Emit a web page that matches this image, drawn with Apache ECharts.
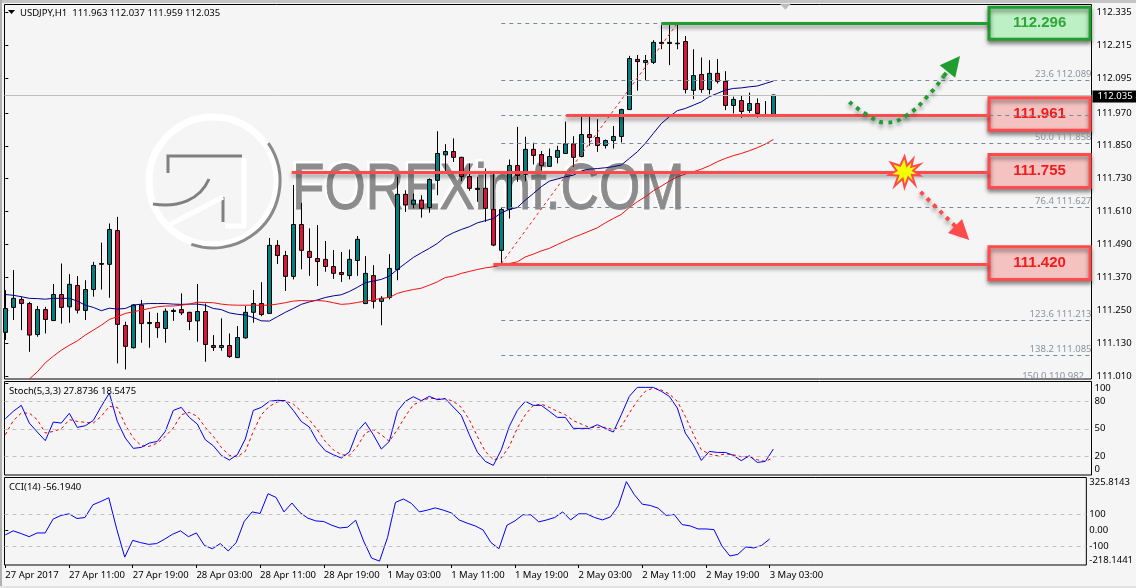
<!DOCTYPE html>
<html><head><meta charset="utf-8">
<style>html,body{margin:0;padding:0;background:#f5f5f5;overflow:hidden}#c{width:1136px;height:588px}</style>
<script src="https://cdn.jsdelivr.net/npm/echarts@6/dist/echarts.min.js"></script>
</head><body><div id="c"></div>
<script>
const timeLabels=['27 Apr 2017','27 Apr 11:00','27 Apr 19:00','28 Apr 03:00','28 Apr 11:00','28 Apr 19:00','1 May 03:00','1 May 11:00','1 May 19:00','2 May 03:00','2 May 11:00','2 May 19:00','3 May 03:00'];
const priceTicks=[111.010,111.130,111.250,111.370,111.490,111.610,111.730,111.850,111.970,112.095,112.215,112.335];
const opens=[111.170,111.261,111.290,111.275,111.162,111.253,111.213,111.308,111.263,111.341,111.250,111.326,111.418,111.418,111.541,111.195,111.114,111.270,111.202,111.206,111.184,111.246,111.253,111.243,111.212,111.246,111.122,111.115,111.122,111.078,111.150,111.243,111.275,111.239,111.487,111.450,111.374,111.563,111.465,111.439,111.436,111.410,111.388,111.377,111.432,111.275,111.377,111.283,111.297,111.399,111.673,111.637,111.652,111.625,111.724,111.817,111.829,111.808,111.738,111.695,111.695,111.618,111.469,111.618,111.778,111.746,111.837,111.818,111.775,111.808,111.822,111.857,111.811,111.891,111.880,111.851,111.869,111.884,111.982,112.165,112.154,112.154,112.227,112.227,112.224,112.230,112.052,112.110,112.055,112.114,112.085,111.997,112.015,111.979,112.004,111.959,111.963];
const closes=[111.257,111.294,111.275,111.160,111.253,111.217,111.308,111.261,111.345,111.251,111.326,111.414,111.421,111.545,111.199,111.119,111.270,111.202,111.206,111.187,111.247,111.250,111.241,111.210,111.246,111.126,111.115,111.122,111.082,111.151,111.243,111.275,111.235,111.487,111.450,111.374,111.563,111.469,111.443,111.428,111.410,111.385,111.381,111.436,111.509,111.385,111.283,111.294,111.403,111.673,111.634,111.652,111.622,111.727,111.822,111.829,111.808,111.738,111.695,111.691,111.622,111.488,111.618,111.778,111.742,111.837,111.815,111.778,111.811,111.833,111.857,111.808,111.891,111.880,111.851,111.869,111.884,111.982,112.168,112.157,112.161,112.227,112.223,112.223,112.222,112.055,112.106,112.055,112.114,112.085,111.997,112.019,111.975,112.004,111.968,111.957,112.035];
const highs=[111.324,111.397,111.300,111.281,111.266,111.263,111.346,111.421,111.382,111.375,111.360,111.427,111.497,111.567,111.591,111.209,111.273,111.288,111.245,111.241,111.257,111.257,111.312,111.245,111.346,111.275,111.160,111.221,111.166,111.193,111.266,111.324,111.353,111.514,111.506,111.467,111.707,111.642,111.549,111.561,111.503,111.470,111.463,111.472,111.521,111.448,111.415,111.302,111.455,111.737,111.688,111.676,111.670,111.731,111.903,111.856,111.877,111.810,111.786,111.737,111.767,111.749,111.625,111.800,111.919,111.883,111.861,111.831,111.840,111.850,111.938,111.885,111.956,111.956,111.947,111.873,111.922,111.985,112.178,112.181,112.181,112.235,112.290,112.290,112.296,112.250,112.202,112.172,112.162,112.166,112.122,112.029,112.032,112.044,112.023,112.013,112.037];
const lows=[111.142,111.215,111.178,111.099,111.154,111.166,111.213,111.202,111.205,111.239,111.215,111.300,111.326,111.296,111.057,111.035,111.111,111.132,111.114,111.150,111.132,111.212,111.233,111.178,111.136,111.063,111.102,111.103,111.077,111.077,111.147,111.205,111.229,111.238,111.419,111.321,111.363,111.400,111.376,111.339,111.391,111.365,111.354,111.363,111.376,111.273,111.257,111.196,111.290,111.360,111.609,111.622,111.588,111.606,111.670,111.755,111.791,111.721,111.686,111.646,111.573,111.484,111.421,111.585,111.719,111.721,111.782,111.759,111.774,111.786,111.820,111.774,111.808,111.850,111.828,111.840,111.840,111.862,111.981,112.051,112.089,112.148,112.202,112.144,112.202,112.041,112.020,112.043,112.037,112.077,111.980,111.968,111.952,111.970,111.953,111.957,111.959];
const maBlue=[111.308,111.305,111.300,111.294,111.293,111.291,111.294,111.294,111.294,111.284,111.269,111.261,111.249,111.258,111.255,111.257,111.269,111.273,111.275,111.275,111.275,111.273,111.272,111.273,111.273,111.269,111.257,111.253,111.241,111.236,111.233,111.224,111.212,111.211,111.227,111.243,111.257,111.272,111.281,111.288,111.297,111.303,111.307,111.319,111.334,111.351,111.357,111.363,111.375,111.399,111.421,111.443,111.460,111.476,111.494,111.518,111.533,111.545,111.555,111.569,111.577,111.585,111.606,111.618,111.625,111.652,111.676,111.701,111.721,111.729,111.737,111.743,111.758,111.765,111.767,111.770,111.774,111.780,111.804,111.828,111.859,111.895,111.931,111.956,111.978,111.986,111.998,112.010,112.029,112.041,112.053,112.059,112.061,112.065,112.068,112.077,112.086];
const maRed=[null,null,null,111.000,111.026,111.059,111.083,111.105,111.123,111.139,111.160,111.178,111.196,111.217,111.227,111.239,111.245,111.251,111.257,111.263,111.266,111.266,111.269,111.273,111.280,111.279,111.278,111.273,111.270,111.269,111.269,111.269,111.269,111.269,111.273,111.278,111.284,111.286,111.285,111.286,111.284,111.278,111.272,111.274,111.279,111.284,111.288,111.294,111.297,111.312,111.320,111.326,111.331,111.342,111.354,111.370,111.375,111.385,111.392,111.399,111.405,111.409,111.415,111.421,111.427,111.445,111.455,111.467,111.476,111.490,111.503,111.516,111.527,111.539,111.551,111.569,111.585,111.600,111.625,111.646,111.664,111.686,111.703,111.721,111.737,111.747,111.755,111.765,111.777,111.792,111.804,111.814,111.822,111.832,111.843,111.856,111.873];
const stochMain=[60.9,69.0,75.5,56.2,46.4,37.0,57.3,56.2,66.8,51.5,53.3,59.1,74.4,88.9,58.0,39.9,28.6,29.7,34.4,36.2,47.1,70.0,73.3,62.4,55.1,38.0,31.5,21.0,15.9,21.7,38.8,70.0,73.3,79.9,81.0,80.6,70.0,58.0,51.9,36.2,26.0,21.7,18.1,24.6,47.1,57.0,43.5,27.9,36.2,69.0,79.9,84.9,80.6,85.3,81.7,82.8,73.7,64.6,43.5,24.6,14.4,10.1,27.1,52.6,70.0,79.9,75.5,75.5,69.0,62.4,62.4,50.4,50.4,50.4,54.4,50.4,46.4,65.3,85.3,95.1,95.1,95.1,90.8,85.3,72.6,45.3,32.6,15.5,25.3,24.2,24.2,21.0,15.2,20.6,13.3,14.4,27.87];
const stochSignal=[43.5,58.8,67.1,67.1,59.9,45.3,47.1,50.0,59.9,58.0,57.0,56.2,63.5,74.4,73.3,54.4,39.9,31.5,30.8,34.4,41.7,50.8,65.3,67.9,63.5,51.5,41.7,29.7,21.0,19.5,25.3,47.1,65.3,74.4,79.1,80.6,76.9,69.0,59.9,49.0,36.2,27.1,21.7,21.0,30.8,45.3,49.0,43.5,36.2,49.0,63.5,76.2,79.9,83.5,82.4,82.8,79.9,73.3,59.9,41.7,25.3,16.2,18.1,30.8,50.8,65.3,75.5,76.9,73.3,69.0,65.3,58.8,55.1,51.5,51.5,51.5,49.0,52.6,67.1,80.6,90.8,94.4,92.2,87.9,79.9,63.5,44.2,27.1,22.4,20.6,22.8,21.7,19.5,19.5,16.2,14.4,18.55];
const cci=[-31,-6,-23,-42,-19,-19,67,90,100,71,77,156,177,200,4,-169,-65,-79,-90,-85,-58,-27,-6,-42,-19,-96,-117,-85,-131,-79,52,112,102,225,202,112,167,108,73,56,52,29,12,17,60,-69,-175,-194,-48,171,192,165,112,123,137,123,106,62,42,25,0,-79,-117,29,56,94,94,50,62,77,112,62,100,100,77,62,81,150,300,219,160,152,135,90,96,33,25,6,6,2,-100,-162,-152,-106,-112,-96,-56.19];
const fibLevels=[['',112.296,false],['23.6 112.089',112.089,true],['',111.961,true],['50.0 111.858',111.858,true],['76.4 111.627',111.627,true],['123.6 111.213',111.213,true],['138.2 111.085',111.085,true]];
const levels=[{v:112.296,from:82,top:112.355,bottom:112.238,kind:'g'},{v:111.961,from:70.1,top:112.025,bottom:111.907,kind:'r'},{v:111.755,from:35.8,top:111.818,bottom:111.698,kind:'r'},{v:111.420,from:61,top:111.482,bottom:111.363,kind:'r'}];
const greenPath=[[105.5,112.010],[108.1,111.956],[110,111.935],[112.7,111.962],[115.6,112.041],[117.3,112.104]];
const greenArrow=[[117.3,112.104],[118.55,112.149]];
const redArrow=[[114.4,111.682],[119.6,111.532]];
const xMin=-0.1,xMax=135.77,boxFrom=122.96,boxTo=135.6;
const FONT='Noto Sans',FS=9.5,GREEN='#1f9e2f',RED='#ff4b4b';
const idx=opens.map((_,i)=>i);
const pair=a=>a.map((v,i)=>[i,v]);
const candleData=idx.map(i=>[i,opens[i],closes[i],lows[i],highs[i]]);
const labelOf=i=>timeLabels[i/8];
const shadow={shadowBlur:4,shadowOffsetY:3,shadowColor:'rgba(0,0,0,.45)'};
const hx=(g)=>({type:'value',gridIndex:g,min:xMin,max:xMax,splitLine:{show:false},axisLine:{show:false,onZero:false},axisTick:{show:false},axisLabel:{show:false}});
const colorOf=k=>k==='g'?GREEN:RED;
const star='path://M50 0L58 30L78 8L72 34L100 26L78 46L100 62L74 60L84 92L62 68L50 100L44 72L18 96L30 62L0 60L24 46L6 20L36 30Z';

const chart=echarts.init(document.getElementById('c'),null,{renderer:'canvas'});
const tickLabelFont={fontFamily:FONT,fontSize:FS,color:'#000'};
chart.setOption({
 animation:false,backgroundColor:'#f5f5f5',
 title:[
  {text:'USDJPY,H1  111.963 112.037 111.959 112.035',left:15,top:3,textStyle:{fontFamily:FONT,fontSize:FS,fontWeight:'normal',color:'#000'}},
  {text:'Stoch(5,3,3) 27.8736 18.5475',left:4,top:381,textStyle:{fontFamily:FONT,fontSize:FS,fontWeight:'normal',color:'#000'}},
  {text:'CCI(14) -56.1940',left:4,top:477,textStyle:{fontFamily:FONT,fontSize:FS,fontWeight:'normal',color:'#000'}}
 ],
 grid:[
  {left:4.5,width:1087,top:4.5,height:374.5,show:true,borderColor:'#000',borderWidth:1,backgroundColor:'transparent'},
  {left:4.5,width:1087,top:381.5,height:93.5,show:true,borderColor:'#000',borderWidth:1,backgroundColor:'transparent'},
  {left:4.5,width:1087,top:477.5,height:87.5,show:true,borderColor:'#000',borderWidth:1,backgroundColor:'transparent'}
 ],
 xAxis:[hx(0),hx(1),{
  type:'value',gridIndex:2,min:xMin,max:xMax,splitLine:{show:false},
  axisLine:{show:false,onZero:false},
  axisTick:{show:true,length:3,customValues:timeLabels.map((_,i)=>i*8),lineStyle:{color:'#000'}},
  axisLabel:{show:true,customValues:timeLabels.map((_,i)=>i*8),formatter:v=>labelOf(v),align:'left',margin:5,hideOverlap:false,...tickLabelFont}
 }],
 yAxis:[
  {type:'value',gridIndex:0,position:'right',min:111.0,max:112.365,scale:true,splitLine:{show:false},axisLine:{show:false},
   axisTick:{show:true,length:3,customValues:priceTicks,lineStyle:{color:'#000'}},
   axisLabel:{customValues:priceTicks,formatter:v=>v.toFixed(3),margin:5,...tickLabelFont}},
  {type:'value',gridIndex:1,position:'right',min:-0.4,max:101.5,splitLine:{show:false},axisLine:{show:false},
   axisTick:{show:true,length:3,customValues:[100],lineStyle:{color:'#000'}},
   axisLabel:{customValues:[0,20,50,80,100],formatter:v=>String(v),margin:3,verticalAlignMinLabel:'bottom',verticalAlignMaxLabel:'top',...tickLabelFont}},
  {type:'value',gridIndex:2,position:'right',min:-218.1441,max:325.8143,splitLine:{show:false},axisLine:{show:false},
   axisTick:{show:true,length:3,customValues:[0],lineStyle:{color:'#000'}},
   axisLabel:{customValues:[-218.1441,-100,0,100,325.8143],formatter:v=>(v===0?'0.00':(Number.isInteger(v)?String(v):v.toFixed(4))),margin:3,verticalAlignMinLabel:'bottom',verticalAlignMaxLabel:'top',...tickLabelFont}}
 ],
 graphic:[
  {type:'rect',z:0,silent:true,shape:{x:0,y:0,width:1136,height:3},style:{fill:'#c4c4c4'}},
  {type:'rect',z:0,silent:true,shape:{x:0,y:0,width:2,height:588},style:{fill:'#b0b0b0'}},
  {type:'rect',z:0,silent:true,shape:{x:0,y:586,width:1136,height:2},style:{fill:'#e4e4e4'}},
  {type:'polygon',z:0,silent:true,shape:{points:[[8,10],[15,10],[11.5,14]]},style:{fill:'#000'}},
  {type:'circle',z:0,silent:true,shape:{cx:213,cy:181,r:64},style:{fill:'none',stroke:'#fff',lineWidth:7}},
  {type:'arc',z:0,silent:true,shape:{cx:213,cy:181,r:67,startAngle:-0.6,endAngle:1.9},style:{fill:'none',stroke:'#8a8a8a',lineWidth:3}},
  {type:'polyline',z:0,silent:true,shape:{points:[[168,173],[168,156],[242,156]]},style:{fill:'none',stroke:'#808080',lineWidth:3}},
  {type:'polyline',z:0,silent:true,shape:{points:[[223,197],[223,222]]},style:{fill:'none',stroke:'#808080',lineWidth:3}},
  {type:'bezierCurve',z:0,silent:true,shape:{x1:153,y1:204,x2:209,y2:179,cpx1:178,cpy1:208,cpx2:200,cpy2:200},style:{fill:'none',stroke:'#808080',lineWidth:3}},
  {type:'polyline',z:0,silent:true,shape:{points:[[165,227],[223,197]]},style:{fill:'none',stroke:'#fff',lineWidth:5}},
  {type:'polyline',z:0,silent:true,shape:{points:[[244,158],[244,226],[225,226]]},style:{fill:'none',stroke:'#fff',lineWidth:5}},
  {type:'text',z:0,silent:true,x:290,y:157,scaleX:.83,style:{text:'FOREXimf.COM',font:'64px "Liberation Sans"',fill:'#fff',stroke:'#fff',lineWidth:2}},
  {type:'text',z:0,silent:true,x:292,y:159,scaleX:.83,style:{text:'FOREXimf.COM',font:'64px "Liberation Sans"',fill:'#8c8c8c',stroke:'#8c8c8c',lineWidth:1}}
 ],
 series:[
  {type:'line',name:'fib',xAxisIndex:0,yAxisIndex:0,data:[],symbol:'none',z:1,silent:true,
   markLine:{silent:true,symbol:'none',animation:false,label:{show:false},
    data:[
     ...fibLevels.map(f=>[
      {coord:[62,f[1]],lineStyle:{color:'#7a8899',type:[4,4],width:1}},
      {coord:[f[2]?xMax:84,f[1]]}]),
     [{coord:[xMin,112.035],lineStyle:{color:'#c0c0c0',type:'solid',width:1}},{coord:[xMax,112.035]}],
     [{coord:[62,111.421],lineStyle:{color:'#f02020',type:[3,3],width:1}},{coord:[84,112.296]}]
    ]},
   markPoint:{silent:true,animation:false,data:[
    {coord:[97.5,112.357],symbol:'triangle',symbolRotate:180,symbolSize:[11,6],itemStyle:{color:'#bdbdbd'},label:{show:false}}
   ]}},
  {type:'candlestick',name:'USDJPY',xAxisIndex:0,yAxisIndex:0,data:candleData,barWidth:5,z:3,silent:true,clip:true,
   encode:{x:0,y:[1,2,3,4]},
   itemStyle:{color:'#008080',color0:'#dc143c',borderColor:'#000',borderColor0:'#000',borderColorDoji:'#000',borderWidth:1}},
  {type:'line',name:'MA20',xAxisIndex:0,yAxisIndex:0,data:pair(maBlue),symbol:'none',z:4,silent:true,lineStyle:{color:'#00008b',width:1}},
  {type:'line',name:'MA50',xAxisIndex:0,yAxisIndex:0,data:pair(maRed),symbol:'none',z:4,silent:true,lineStyle:{color:'#f01010',width:1}},
  {type:'line',name:'levels',xAxisIndex:0,yAxisIndex:0,data:[],symbol:'none',z:5,silent:true,
   markLine:{silent:true,symbol:'none',animation:false,
    data:[
     ...levels.map(l=>[{coord:[l.from,l.v],lineStyle:{color:colorOf(l.kind),type:'solid',width:3,...shadow},label:{show:false}},{coord:[boxFrom,l.v]}]),
     [{coord:redArrow[0],symbol:'none',lineStyle:{color:RED,type:[4,5],width:4,...shadow},label:{show:false}},{coord:redArrow[1],symbol:'triangle',symbolSize:20}],
     [{coord:greenArrow[0],symbol:'none',lineStyle:{color:GREEN,type:[4,5],width:4,...shadow},label:{show:false}},{coord:greenArrow[1],symbol:'triangle',symbolSize:20}]
    ]},
   markArea:{silent:true,animation:false,
    data:levels.map(l=>[
     {coord:[boxFrom,l.top],itemStyle:{color:l.kind==='g'?'#bdf0c4':'#f5c2c2',borderColor:colorOf(l.kind),borderWidth:3,...shadow},
      label:{show:true,position:'inside',formatter:l.v.toFixed(3),fontFamily:'Liberation Sans',fontWeight:'bold',fontSize:15,color:l.kind==='g'?'#2fa53a':'#f01c1c'}},
     {coord:[boxTo,l.bottom]}])},
   markPoint:{silent:true,animation:false,data:[
    {coord:[112.4,111.755],symbol:star,symbolSize:31,itemStyle:{color:'#f2ff00',borderColor:RED,borderWidth:2},label:{show:false}}
   ]}},
  {type:'line',name:'greenPath',xAxisIndex:0,yAxisIndex:0,data:greenPath,symbol:'none',smooth:true,z:6,silent:true,lineStyle:{color:GREEN,type:[4,5],width:4,...shadow}},
  {type:'line',name:'fibLabels',xAxisIndex:0,yAxisIndex:0,data:[],symbol:'none',z:8,silent:true,
   markLine:{silent:true,symbol:'none',animation:false,
    data:fibLevels.filter(f=>f[0]).map(f=>[
     {coord:[62,f[1]],lineStyle:{color:'transparent',width:0},label:{show:true,formatter:f[0],position:'insideEndTop',distance:[0,1],fontFamily:FONT,fontSize:FS,color:'#8c939b'}},
     {coord:[xMax,f[1]]}])},
   markPoint:{silent:true,animation:false,data:[
    {coord:[134.9,111.010],symbol:'rect',symbolSize:1,itemStyle:{color:'transparent'},label:{show:true,position:'left',distance:0,formatter:'150.0 110.982',fontFamily:FONT,fontSize:FS,color:'#8c939b'}}
   ]}},
  {type:'line',name:'price',xAxisIndex:0,yAxisIndex:0,data:[],symbol:'none',z:7,silent:true,
   markLine:{silent:true,symbol:'none',animation:false,data:[
    {yAxis:112.035,lineStyle:{color:'transparent',width:0},label:{show:true,position:'end',distance:1,formatter:'112.035',backgroundColor:'#000',color:'#fff',padding:[1,5,1,5],fontFamily:FONT,fontSize:FS}}
   ]}},
  {type:'line',name:'Stoch',xAxisIndex:1,yAxisIndex:1,data:pair(stochMain),symbol:'none',z:4,silent:true,lineStyle:{color:'#0000f0',width:1},
   markLine:{silent:true,symbol:'none',animation:false,label:{show:false},lineStyle:{color:'#c0c0c0',type:[4,4],width:1},data:[{yAxis:80},{yAxis:50},{yAxis:20}]}},
  {type:'line',name:'Signal',xAxisIndex:1,yAxisIndex:1,data:pair(stochSignal),symbol:'none',z:3,silent:true,lineStyle:{color:'#f00000',type:[3,3],width:1}},
  {type:'line',name:'CCI',xAxisIndex:2,yAxisIndex:2,data:pair(cci),symbol:'none',z:4,silent:true,lineStyle:{color:'#0000f0',width:1},
   markLine:{silent:true,symbol:'none',animation:false,label:{show:false},lineStyle:{color:'#c0c0c0',type:[4,4],width:1},data:[{yAxis:100},{yAxis:-100}]}}
 ]
});
</script></body></html>
